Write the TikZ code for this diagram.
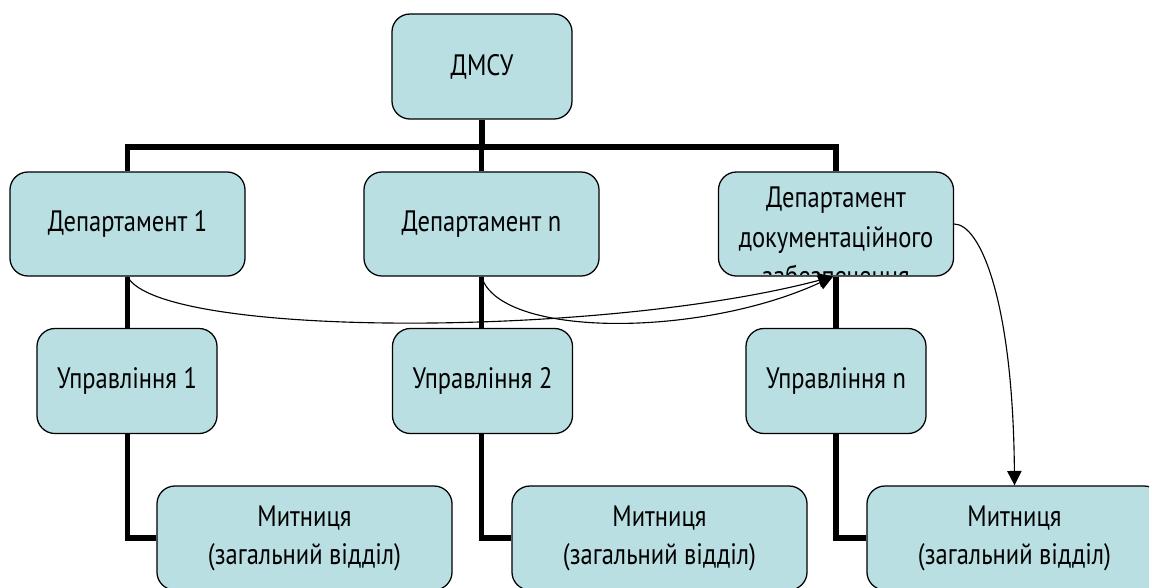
\documentclass[tikz,border=0pt]{standalone}
\usepackage{fontspec}
\setmainfont{PT Sans}[FakeStretch=0.83]
\usetikzlibrary{arrows.meta, calc, backgrounds}
\definecolor{boxTeal}{RGB}{185,223,227}

\tikzset{
  unit/.style={draw=black, fill=boxTeal, line width=0.9pt, rounded corners=0.45cm,
    align=center, inner sep=0pt, font=\fontsize{21}{27}\selectfont},
  headunit/.style={unit, minimum width=4.5cm, minimum height=2.625cm},
  deptunit/.style={unit, minimum width=5.875cm, minimum height=2.6cm},
  mgmtunit/.style={unit, minimum width=4.5cm, minimum height=2.625cm},
  customsunit/.style={unit, minimum width=7.375cm, minimum height=2.6cm},
  trunk/.style={line width=3.6pt, black},
  link/.style={line width=0.8pt, black, -{Triangle[length=3.6mm, width=3.6mm]}},
}

\begin{document}
\begin{tikzpicture}[x=0.025cm, y=-0.025cm]

	\useasboundingbox (0,0) rectangle (1149,587);
	\clip (0,0) rectangle (1149,587);

	% top
	\node[headunit] (dmsu) at (482,66.5) {ДМСУ};

	% departments
	\node[deptunit] (d1) at (127.5,224) {Департамент 1};
	\node[deptunit] (dn) at (481.5,224) {Департамент n};
	\node[deptunit] (dd) at (836,224) {};
	\begin{scope}
		\clip ($(dd.north west)+(2,2)$) rectangle ($(dd.south east)+(-2,-2)$);
		\node[font=\fontsize{21}{28}\selectfont, align=center] (ddlabel) at (836,237) {Департамент\\документаційного\\забезпечення};
	\end{scope}

	% managements
	\node[mgmtunit] (u1) at (127,381) {Управління 1};
	\node[mgmtunit] (u2) at (482.5,381) {Управління 2};
	\node[mgmtunit] (un) at (836,381) {Управління n};

	% customs
	\node[customsunit] (m1) at (304.5,538) {Митниця\\(загальний відділ)};
	\node[customsunit] (m2) at (659.5,538) {Митниця\\(загальний відділ)};
	\node[customsunit] (m3) at (1014.5,538) {Митниця\\(загальний відділ)};

	\begin{pgfonlayer}{background}
		\coordinate (bus) at (836,147);
		\draw[trunk] (d1.north) |- (bus) -- (dd.north);
		\draw[trunk] (dmsu.south) -- (dmsu.south |- bus);
		\draw[trunk] (dn.north) -- (dn.north |- bus);
		\draw[trunk] (d1.south) |- (m1.west);
		\draw[trunk] (dn.south) |- (m2.west);
		\draw[trunk] (dd.south) |- (m3.west);
	\end{pgfonlayer}

	\draw[link] (d1.south) .. controls (160,338) and (600,338) .. ($(dd.south)+(-3,0)$);
	\draw[link] (dn.south) .. controls (500,338) and (700,338) .. ($(dd.south)+(-3,0)$);
	\draw[link] (dd.east) .. controls (980,224) and (1013,300) .. (m3.north);

\end{tikzpicture}
\end{document}
